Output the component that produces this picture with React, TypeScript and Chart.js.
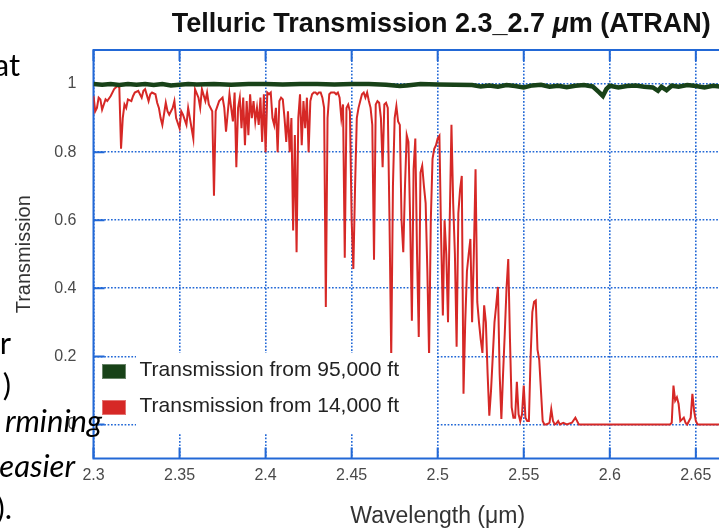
import React, { useEffect, useRef } from "react";
import { Chart, registerables } from "chart.js";

Chart.register(...registerables);

// ---------- data ----------
const xTicks = [2.3, 2.35, 2.4, 2.45, 2.5, 2.55, 2.6, 2.65, 2.7];
const xTickLabels = ["2.3", "2.35", "2.4", "2.45", "2.5", "2.55", "2.6", "2.65", "2.7"];
const yTicks = [0, 0.2, 0.4, 0.6, 0.8, 1];
const yTickLabels = ["0", "0.2", "0.4", "0.6", "0.8", "1"];
const seriesLabels = ["Transmission from 95,000 ft", "Transmission from 14,000 ft"];

// 14,000 ft transmission (red)
const wl14 = [
  2.300, 2.301, 2.302, 2.303, 2.304, 2.305, 2.306, 2.307, 2.308, 2.310,
  2.312, 2.314, 2.315, 2.316, 2.317, 2.318, 2.319, 2.320, 2.322, 2.323,
  2.324, 2.326, 2.328, 2.329, 2.330, 2.332, 2.333, 2.334, 2.336, 2.337,
  2.338, 2.339, 2.340, 2.342, 2.343, 2.344, 2.346, 2.347, 2.348, 2.350,
  2.351, 2.352, 2.354, 2.355, 2.356, 2.358, 2.359, 2.361, 2.362, 2.363,
  2.365, 2.366, 2.367, 2.369, 2.370, 2.371, 2.373, 2.375, 2.376, 2.377,
  2.379, 2.381, 2.382, 2.383, 2.384, 2.385, 2.386, 2.387, 2.388, 2.389,
  2.390, 2.391, 2.392, 2.393, 2.394, 2.395, 2.396, 2.397, 2.398, 2.399,
  2.400,
  2.401, 2.402, 2.403, 2.404, 2.405, 2.406, 2.407, 2.408, 2.409, 2.410,
  2.411, 2.412, 2.413, 2.414, 2.415, 2.416, 2.417, 2.418, 2.419, 2.420,
  2.421, 2.422, 2.423, 2.424, 2.425, 2.426, 2.427, 2.428, 2.429, 2.430,
  2.431, 2.432, 2.433, 2.434, 2.435, 2.436, 2.437, 2.438, 2.439, 2.440,
  2.441, 2.442, 2.443, 2.444, 2.445, 2.446, 2.447, 2.448, 2.449, 2.450,
  2.451, 2.452, 2.453, 2.454, 2.455, 2.456, 2.457, 2.458, 2.459, 2.460,
  2.461, 2.462, 2.463, 2.464, 2.465, 2.466, 2.467, 2.468, 2.469, 2.470,
  2.471, 2.472, 2.473, 2.474, 2.475, 2.476, 2.477, 2.478, 2.479, 2.480,
  2.481, 2.482, 2.483, 2.484, 2.485, 2.486, 2.487, 2.488, 2.489, 2.490,
  2.491, 2.492, 2.493, 2.494, 2.495, 2.496, 2.497, 2.498, 2.499, 2.500,
  2.501, 2.502, 2.503, 2.504, 2.505, 2.506, 2.507, 2.508, 2.509, 2.510,
  2.511, 2.512, 2.513, 2.514, 2.515, 2.516, 2.517, 2.518, 2.519, 2.520,
  2.521, 2.522, 2.523, 2.524, 2.525, 2.526, 2.527, 2.528, 2.529, 2.530,
  2.531, 2.532, 2.533, 2.534, 2.535, 2.536, 2.537, 2.538, 2.539, 2.540,
  2.541, 2.542, 2.543, 2.544, 2.545, 2.546, 2.547, 2.548, 2.549, 2.550,
  2.551, 2.552, 2.553, 2.554, 2.555, 2.556, 2.557, 2.558, 2.559, 2.560,
  2.561, 2.562, 2.563, 2.564, 2.565, 2.566, 2.567, 2.568, 2.569, 2.570,
  2.571,
  2.573, 2.575, 2.578, 2.580, 2.582, 2.600, 2.620, 2.635, 2.636, 2.637,
  2.638, 2.639, 2.640, 2.641, 2.642, 2.643, 2.644, 2.645, 2.647, 2.648,
  2.649, 2.650, 2.651, 2.670, 2.700,
];
const tr14 = [
  0.965, 0.92, 0.93, 0.96, 0.955, 0.925, 0.94, 0.955, 0.95, 0.965,
  0.985, 0.995, 0.99, 0.81, 0.90, 0.94, 0.93, 0.955, 0.95, 0.965,
  0.975, 0.98, 0.96, 0.98, 0.985, 0.95, 0.97, 0.975, 0.97, 0.945,
  0.93, 0.9, 0.88, 0.945, 0.92, 0.91, 0.93, 0.95, 0.90, 0.87,
  0.92, 0.91, 0.88, 0.93, 0.90, 0.84, 0.985, 0.96, 0.93, 0.985,
  0.95, 0.975, 0.94, 0.92, 0.672, 0.92, 0.95, 0.96, 0.93, 0.86,
  0.97, 0.89, 0.975, 0.756, 0.93, 0.96, 0.87, 0.96, 0.82, 0.95,
  0.85, 0.97, 0.90, 0.95, 0.89, 0.93, 0.88, 0.96, 0.83, 0.97,
  0.80,
  0.975, 0.97, 0.975, 0.90, 0.88, 0.93, 0.80, 0.95, 0.96, 0.955,
  0.90, 0.83, 0.92, 0.80, 0.90, 0.57, 0.85, 0.506, 0.90, 0.97,
  0.82, 0.95, 0.87, 0.96, 0.80, 0.95, 0.97, 0.975, 0.975, 0.97,
  0.975, 0.975, 0.96, 0.93, 0.345, 0.90, 0.97, 0.975, 0.975, 0.975,
  0.97, 0.975, 0.96, 0.90, 0.94, 0.49, 0.93, 0.94, 0.92, 0.60,
  0.457, 0.70, 0.90, 0.93, 0.95, 0.97, 0.975, 0.96, 0.975, 0.95,
  0.93, 0.88, 0.484, 0.94, 0.95, 0.945, 0.90, 0.756, 0.94, 0.945,
  0.93, 0.60, 0.20, 0.70, 0.90, 0.935, 0.89, 0.88, 0.60, 0.506,
  0.70, 0.85, 0.83, 0.60, 0.305, 0.75, 0.84, 0.50, 0.257, 0.74,
  0.76, 0.70, 0.65, 0.45, 0.20, 0.60, 0.78, 0.81, 0.82, 0.84,
  0.848, 0.55, 0.32, 0.60, 0.50, 0.30, 0.60, 0.88, 0.65, 0.50,
  0.228, 0.62, 0.69, 0.73, 0.09, 0.30, 0.45, 0.50, 0.545, 0.30,
  0.50, 0.75, 0.36, 0.30, 0.25, 0.21, 0.35, 0.30, 0.15, 0.026,
  0.10, 0.20, 0.30, 0.35, 0.404, 0.15, 0.016, 0.15, 0.27, 0.40,
  0.486, 0.25, 0.05, 0.02, 0.02, 0.125, 0.03, 0.01, 0.03, 0.114,
  0.02, 0.01, 0.01, 0.20, 0.33, 0.36, 0.364, 0.22, 0.19, 0.10,
  0.01, 0, 0, 0.002, 0.005, 0.045, 0.01, 0, 0.003, 0.01,
  0,
  0.005, 0, 0.005, 0.02, 0, 0, 0, 0, 0.005, 0.114,
  0.07, 0.08, 0.06, 0.01, 0.015, 0.02, 0.005, 0, 0.02, 0.09,
  0.04, 0.01, 0, 0, 0,
];

// 95,000 ft transmission (green)
const wl95 = [
  2.300, 2.305, 2.310, 2.315, 2.320, 2.325, 2.330, 2.335, 2.340, 2.345,
  2.350, 2.355, 2.360, 2.370, 2.380, 2.390, 2.400, 2.410, 2.420, 2.430,
  2.440, 2.450, 2.460, 2.470, 2.478, 2.482, 2.490, 2.500, 2.510, 2.520,
  2.525, 2.530, 2.535, 2.540, 2.545, 2.550, 2.555, 2.560, 2.565, 2.570,
  2.575, 2.580, 2.585, 2.590, 2.594, 2.596, 2.598, 2.600, 2.605, 2.610,
  2.615, 2.620, 2.625, 2.628, 2.630, 2.633, 2.636, 2.640, 2.645, 2.650,
  2.655, 2.660, 2.665, 2.670, 2.680, 2.690, 2.700,
];
const tr95 = [
  1.0, 0.998, 1.0, 0.997, 1.0, 0.998, 1.0, 0.997, 1.0, 0.996,
  0.998, 1.0, 0.999, 1.0, 0.998, 1.0, 1.0, 0.999, 1.0, 1.0,
  0.999, 1.0, 1.0, 0.998, 0.994, 0.996, 1.0, 0.999, 0.998, 0.997,
  0.993, 0.996, 0.992, 0.997, 0.994, 0.99, 0.996, 0.998, 0.992, 0.995,
  0.991, 0.995, 0.997, 0.993, 0.975, 0.965, 0.985, 0.995, 0.99, 0.994,
  0.996, 0.992, 0.99, 0.98, 0.992, 0.982, 0.995, 0.992, 0.997, 0.994,
  0.99, 0.995, 0.992, 0.994, 0.995, 0.993, 0.995,
];

// ---------- styling ----------
const FONT = '"Liberation Sans", Arial, Helvetica, sans-serif';
const BLUE = "rgb(34,104,214)";
const GREEN = "rgb(24,66,24)";
const RED = "rgb(214,40,38)";

const framePlugin = {
  id: "frame",
  beforeDatasetsDraw(chart: any) {
    const { ctx, chartArea: a, scales } = chart;
    const x = scales.x;
    const y = scales.y;
    ctx.save();
    ctx.strokeStyle = BLUE;
    ctx.lineWidth = 2;
    ctx.setLineDash([]);
    ctx.strokeRect(a.left, a.top, a.right - a.left, a.bottom - a.top);
    const L = 11;
    ctx.beginPath();
    for (const v of xTicks) {
      const px = x.getPixelForValue(v);
      ctx.moveTo(px, a.bottom);
      ctx.lineTo(px, a.bottom - L);
      ctx.moveTo(px, a.top);
      ctx.lineTo(px, a.top + L);
    }
    for (const v of yTicks) {
      const py = y.getPixelForValue(v);
      ctx.moveTo(a.left, py);
      ctx.lineTo(a.left + L, py);
      ctx.moveTo(a.right, py);
      ctx.lineTo(a.right - L, py);
    }
    ctx.stroke();
    ctx.restore();
  },
};

const legendPlugin = {
  id: "boxLegend",
  afterDatasetsDraw(chart: any) {
    const { ctx, chartArea: a } = chart;
    ctx.save();
    ctx.fillStyle = "#ffffff";
    ctx.fillRect(a.left + 42.5, a.top + 303, 300, 80);
    const colors = [GREEN, RED];
    const tops = [314, 350];
    ctx.font = `21px ${FONT}`;
    ctx.textBaseline = "alphabetic";
    ctx.textAlign = "left";
    for (let i = 0; i < 2; i++) {
      ctx.fillStyle = colors[i];
      ctx.fillRect(a.left + 8.5, a.top + tops[i], 24, 15);
      ctx.strokeStyle = "rgba(255,255,255,0.35)";
      ctx.lineWidth = 1;
      ctx.strokeRect(a.left + 9, a.top + tops[i] + 0.5, 23, 14);
      ctx.fillStyle = "#222";
      ctx.fillText(seriesLabels[i], a.left + 46, a.top + tops[i] + 11.8);
    }
    ctx.restore();
  },
};

const titlePlugin = {
  id: "richTitle",
  afterDraw(chart: any) {
    const { ctx, chartArea: a } = chart;
    const p1 = "Telluric Transmission 2.3_2.7 ";
    const p2 = "\u03bc";
    const p3 = "m (ATRAN)";
    ctx.save();
    ctx.fillStyle = "#111";
    ctx.textBaseline = "alphabetic";
    ctx.textAlign = "left";
    const fB = `bold 27px ${FONT}`;
    const fI = `italic bold 27px ${FONT}`;
    ctx.font = fB;
    const w1 = ctx.measureText(p1).width;
    const w3 = ctx.measureText(p3).width;
    ctx.font = fI;
    const w2 = ctx.measureText(p2).width;
    const total = w1 + w2 + w3;
    let x0 = (a.left + a.right) / 2 + 3.6 - total / 2;
    const by = 32;
    ctx.font = fB;
    ctx.fillText(p1, x0, by);
    x0 += w1;
    ctx.font = fI;
    ctx.fillText(p2, x0, by);
    x0 += w2;
    ctx.font = fB;
    ctx.fillText(p3, x0, by);
    ctx.restore();
  },
};

export default function App() {
  const ref = useRef<HTMLCanvasElement | null>(null);

  useEffect(() => {
    const canvas = ref.current;
    if (!canvas) return;
    Chart.defaults.font.family = FONT;
    const n14 = Math.min(wl14.length, tr14.length);
    const n95 = Math.min(wl95.length, tr95.length);
    const chart = new Chart(canvas, {
      type: "line",
      data: {
        datasets: [
          {
            label: seriesLabels[0],
            data: wl95.slice(0, n95).map((x, i) => ({ x, y: tr95[i] })),
            borderColor: GREEN,
            backgroundColor: GREEN,
            borderWidth: 4.5,
            pointRadius: 0,
            tension: 0,
            fill: false,
          },
          {
            label: seriesLabels[1],
            data: wl14.slice(0, n14).map((x, i) => ({ x, y: tr14[i] })),
            borderColor: RED,
            backgroundColor: RED,
            borderWidth: 2,
            pointRadius: 0,
            tension: 0,
            fill: false,
          },
        ],
      },
      options: {
        animation: false,
        responsive: false,
        devicePixelRatio: 1,
        layout: { padding: { top: 50, left: 0, right: 15.3, bottom: 0 } },
        plugins: {
          legend: { display: false },
          tooltip: { enabled: false },
          title: { display: false },
        },
        scales: {
          x: {
            type: "linear",
            min: 2.3,
            max: 2.7,
            afterBuildTicks: (s: any) => {
              s.ticks = xTicks.map((v) => ({ value: v }));
            },
            afterFit: (s: any) => {
              s.height = 72.5;
            },
            ticks: {
              padding: 7,
              color: "#4a4a4a",
              font: { family: FONT, size: 16 },
              maxRotation: 0,
              autoSkip: false,
              callback: (_v: any, i: number) => xTickLabels[i],
            },
            grid: { color: BLUE, lineWidth: 1.6, drawTicks: false },
            border: { display: false, dash: [1.7, 1.7] },
            title: {
              display: true,
              text: "Wavelength (\u03bcm)",
              color: "#333",
              font: { family: FONT, size: 23 },
              padding: { top: 0, bottom: 1 },
            },
          },
          y: {
            type: "linear",
            min: -0.1,
            max: 1.1,
            afterBuildTicks: (s: any) => {
              s.ticks = yTicks.map((v) => ({ value: v }));
            },
            afterFit: (s: any) => {
              s.width = 93.5;
            },
            ticks: {
              padding: 17,
              color: "#4a4a4a",
              font: { family: FONT, size: 16 },
              autoSkip: false,
              callback: (_v: any, i: number) => yTickLabels[i],
            },
            grid: { color: BLUE, lineWidth: 1.6, drawTicks: false },
            border: { display: false, dash: [1.7, 1.7] },
            title: {
              display: true,
              text: "Transmission",
              color: "#333",
              font: { family: FONT, size: 20 },
              padding: { top: 12, bottom: 0 },
              align: "center",
            },
          },
        },
      } as any,
      plugins: [framePlugin, legendPlugin, titlePlugin],
    });
    return () => chart.destroy();
  }, []);

  const slide = (text: string, right: number, baseline: number, italic: boolean) => (
    <div
      style={{
        position: "absolute",
        right: 719 - right,
        top: baseline - 30.6,
        font: `${italic ? "italic " : ""}31px Lato, "Open Sans", sans-serif`,
        lineHeight: "37.2px",
        whiteSpace: "nowrap",
        color: "#000",
      }}
    >
      {text}
    </div>
  );

  return (
    <div
      style={{
        position: "absolute",
        left: 0,
        top: 0,
        width: 719,
        height: 531,
        overflow: "hidden",
        background: "#fff",
      }}
    >
      <canvas
        ref={ref}
        width={800}
        height={531}
        style={{ position: "absolute", left: 0, top: 0, width: 800, height: 531 }}
      />
      {slide("at", 20, 77, false)}
      {slide("r", 11, 355, false)}
      {slide(")", 11, 397, false)}
      {slide("rmining", 102, 433, true)}
      {slide("easier", 75, 478, true)}
      {slide(").", 12, 520, false)}
    </div>
  );
}
